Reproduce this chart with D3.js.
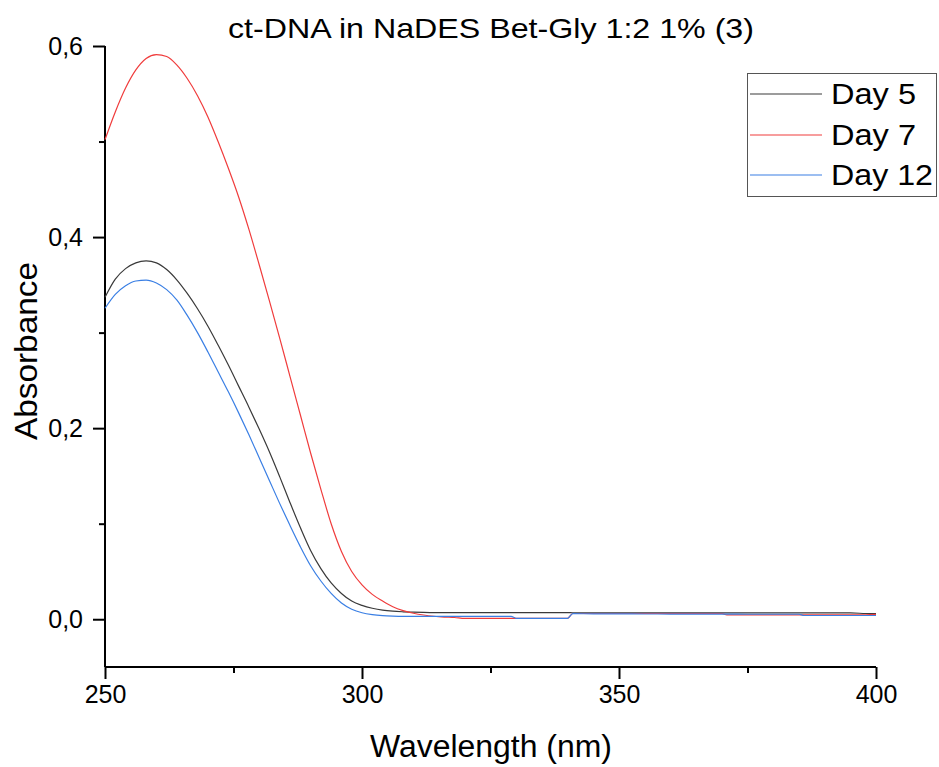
<!DOCTYPE html>
<html>
<head>
<meta charset="utf-8">
<script src="https://cdn.jsdelivr.net/npm/d3@7"></script>
<style>
  html, body { margin: 0; padding: 0; background: #fff; }
  svg { display: block; font-family: "Liberation Sans", Arial, sans-serif; }
</style>
</head>
<body>
<svg id="chart" width="939" height="767"></svg>
<script>
// UV-Vis absorbance spectra of ct-DNA, recorded on different days
const wavelength = [
  250, 252, 254, 256, 258, 260, 262, 264, 266, 268, 270, 272, 274, 276, 278, 280,
  282, 284, 286, 288, 290, 292, 294, 296, 298, 300, 302, 304, 306, 308, 310, 312,
  314, 316, 318, 320, 325, 329, 330, 335, 340, 341, 345, 350, 355, 360, 365, 370,
  371, 375, 380, 385, 386, 390, 395, 398, 400
];

const day5 = [
  0.337, 0.356, 0.367, 0.373, 0.375, 0.373, 0.366, 0.355, 0.341, 0.325, 0.307, 0.287, 0.266, 0.244, 0.222, 0.199,
  0.175, 0.149, 0.122, 0.096, 0.072, 0.053, 0.038, 0.027, 0.019, 0.0145, 0.0115, 0.0095, 0.0084, 0.0078, 0.0074, 0.0071,
  0.0070, 0.0070, 0.0070, 0.0070, 0.0070, 0.0070, 0.0070, 0.0069, 0.0069, 0.0068, 0.0068, 0.0068, 0.0067, 0.0067, 0.0067, 0.0067,
  0.0067, 0.0067, 0.0066, 0.0066, 0.0066, 0.0066, 0.0066, 0.0060, 0.0058
];

const day7 = [
  0.502, 0.531, 0.556, 0.575, 0.587, 0.591, 0.589, 0.580, 0.566, 0.548, 0.526, 0.500, 0.472, 0.442, 0.408, 0.371,
  0.333, 0.294, 0.254, 0.214, 0.174, 0.136, 0.100, 0.071, 0.050, 0.036, 0.026, 0.019, 0.013, 0.0090, 0.0063, 0.0044,
  0.0031, 0.0023, 0.0018, 0.0008, 0.0008, 0.0008, 0.0010, 0.0010, 0.0010, 0.0060, 0.0060, 0.0060, 0.0060, 0.0060, 0.0060, 0.0060,
  0.0045, 0.0045, 0.0045, 0.0045, 0.0045, 0.0045, 0.0045, 0.0045, 0.0050
];

const day12 = [
  0.3255, 0.340, 0.349, 0.354, 0.355, 0.352, 0.345, 0.334, 0.318, 0.300, 0.280, 0.259, 0.238, 0.216, 0.193, 0.169,
  0.145, 0.121, 0.098, 0.076, 0.056, 0.040, 0.027, 0.017, 0.0105, 0.0068, 0.0048, 0.0037, 0.0032, 0.0030, 0.0030, 0.0030,
  0.0030, 0.0030, 0.0030, 0.0030, 0.0030, 0.0030, 0.0010, 0.0010, 0.0010, 0.0058, 0.0057, 0.0056, 0.0055, 0.0054, 0.0053, 0.0053,
  0.0053, 0.0052, 0.0052, 0.0052, 0.0039, 0.0039, 0.0039, 0.0039, 0.0039
];

const seriesNames = ["Day 5", "Day 7", "Day 12"];
const seriesColors = ["#3a3a3a", "#f03c3c", "#3a7fe4"];

const xTicks = [250, 300, 350, 400];
const xMinorTicks = [275, 325, 375];
const yTicks = [0.0, 0.2, 0.4, 0.6];
const yMinorTicks = [0.1, 0.3, 0.5];

const chartTitle = "ct-DNA in NaDES Bet-Gly 1:2 1% (3)";
const xLabel = "Wavelength (nm)";
const yLabel = "Absorbance";

const svg = d3.select("#chart");

const plot = { left: 105, right: 876, top: 46, bottom: 667 };

const x = d3.scaleLinear().domain([250, 400]).range([plot.left, plot.right]);
const y = d3.scaleLinear().domain([-0.05, 0.6]).range([plot.bottom, plot.top]);

const fmt = d => d3.format(".1f")(d).replace(".", ",");

// Axes: left and bottom only, ticks pointing outward
const xAxis = svg.append("g")
  .attr("transform", `translate(0,${plot.bottom})`)
  .call(d3.axisBottom(x).tickValues(xTicks).tickSize(12).tickPadding(6).tickFormat(d3.format("d")));
svg.append("g")
  .attr("transform", `translate(0,${plot.bottom})`)
  .call(d3.axisBottom(x).tickValues(xMinorTicks).tickSize(6).tickFormat(""))
  .call(g => g.select(".domain").remove());

const yAxis = svg.append("g")
  .attr("transform", `translate(${plot.left},0)`)
  .call(d3.axisLeft(y).tickValues(yTicks).tickSize(12).tickPadding(10).tickFormat(fmt));
svg.append("g")
  .attr("transform", `translate(${plot.left},0)`)
  .call(d3.axisLeft(y).tickValues(yMinorTicks).tickSize(6).tickFormat(""))
  .call(g => g.select(".domain").remove());

svg.selectAll(".domain, .tick line")
  .attr("stroke", "#000")
  .attr("stroke-width", 2);
xAxis.select(".domain").attr("d", `M${plot.left},0H${plot.right}`);
yAxis.select(".domain").attr("d", `M0,${plot.top}V${plot.bottom}`);

svg.selectAll(".tick text")
  .attr("font-size", 25)
  .attr("fill", "#000")
  .attr("font-family", "Liberation Sans, Arial, sans-serif");

// Spectra
const series = [day5, day7, day12];
const line = d3.line()
  .x((d, i) => x(wavelength[i]))
  .y(d => y(d))
  .curve(d3.curveMonotoneX);

svg.append("g")
  .selectAll("path")
  .data(series)
  .join("path")
  .attr("d", line)
  .attr("fill", "none")
  .attr("stroke", (d, i) => seriesColors[i])
  .attr("stroke-width", 1.2);

// Title and axis labels
svg.append("text")
  .attr("x", 491)
  .attr("y", 38)
  .attr("text-anchor", "middle")
  .attr("font-size", 28)
  .attr("textLength", 526)
  .attr("lengthAdjust", "spacingAndGlyphs")
  .text(chartTitle);

svg.append("text")
  .attr("x", 491)
  .attr("y", 757)
  .attr("text-anchor", "middle")
  .attr("font-size", 31)
  .attr("textLength", 242)
  .attr("lengthAdjust", "spacingAndGlyphs")
  .text(xLabel);

svg.append("text")
  .attr("transform", `translate(37,351) rotate(-90)`)
  .attr("text-anchor", "middle")
  .attr("font-size", 31)
  .attr("textLength", 178)
  .attr("lengthAdjust", "spacingAndGlyphs")
  .text(yLabel);

// Legend
const legend = svg.append("g");
legend.append("rect")
  .attr("x", 747.5).attr("y", 73.5)
  .attr("width", 189).attr("height", 123)
  .attr("fill", "#fff")
  .attr("stroke", "#555")
  .attr("stroke-width", 1);

const rowY = [94, 135, 175];
const legendTextLen = [85, 85, 102];
seriesNames.forEach((name, i) => {
  legend.append("line")
    .attr("x1", 750).attr("x2", 822)
    .attr("y1", rowY[i]).attr("y2", rowY[i])
    .attr("stroke", seriesColors[i])
    .attr("stroke-width", 1.2);
  legend.append("text")
    .attr("x", 831)
    .attr("y", rowY[i] + 10)
    .attr("font-size", 29)
    .attr("textLength", legendTextLen[i])
    .attr("lengthAdjust", "spacingAndGlyphs")
    .text(name);
});
</script>
</body>
</html>
